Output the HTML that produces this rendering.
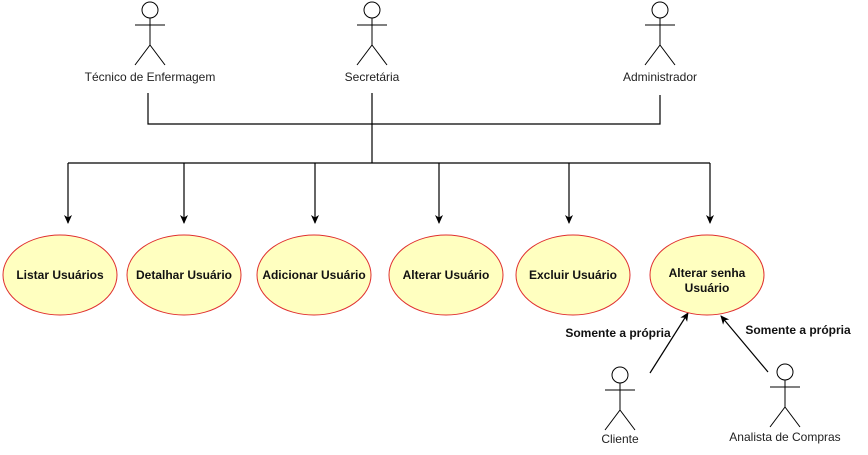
<!DOCTYPE html>
<html><head><meta charset="utf-8"><style>
body{margin:0;background:#fff}
svg{display:block}
text{font-family:"Liberation Sans",Arial,sans-serif;font-size:12px;fill:#222}
.b{font-weight:bold;fill:#111}
</style></head><body>
<svg width="868" height="455" viewBox="0 0 868 455" xmlns="http://www.w3.org/2000/svg">
<defs>
<g id="actor" fill="#fff" stroke="#000" stroke-width="1">
<circle cx="0" cy="8" r="8"/>
<line x1="0" y1="16" x2="0" y2="43"/>
<line x1="-15" y1="23" x2="15" y2="23"/>
<line x1="0" y1="43" x2="-15" y2="63"/>
<line x1="0" y1="43" x2="15" y2="63"/>
</g>
<marker id="ar" markerWidth="10" markerHeight="10" refX="8" refY="5" orient="auto" markerUnits="userSpaceOnUse">
<path d="M0,1 L9,5 L0,9 L2.5,5 Z" fill="#000"/>
</marker>
</defs>
<use href="#actor" x="150" y="2"/>
<use href="#actor" x="372" y="2"/>
<use href="#actor" x="660" y="2"/>
<text x="150" y="81" text-anchor="middle">Técnico de Enfermagem</text>
<text x="372" y="81" text-anchor="middle">Secretária</text>
<text x="660" y="81" text-anchor="middle">Administrador</text>
<g stroke="#000" fill="none" stroke-width="1.2">
<polyline points="148,93 148,124 660,124 660,95"/>
<line x1="372" y1="93" x2="372" y2="163"/>
<line x1="68" y1="163" x2="710" y2="163"/>
<line x1="68" y1="163" x2="68" y2="223" marker-end="url(#ar)"/>
<line x1="184" y1="163" x2="184" y2="223" marker-end="url(#ar)"/>
<line x1="315" y1="163" x2="315" y2="223" marker-end="url(#ar)"/>
<line x1="439" y1="163" x2="439" y2="223" marker-end="url(#ar)"/>
<line x1="569" y1="163" x2="569" y2="223" marker-end="url(#ar)"/>
<line x1="710" y1="163" x2="710" y2="223" marker-end="url(#ar)"/>
<line x1="650" y1="373" x2="688" y2="313" marker-end="url(#ar)"/>
<line x1="768" y1="372" x2="721" y2="316" marker-end="url(#ar)"/>
</g>
<g fill="#ffffc0" stroke="#e03030" stroke-width="1">
<ellipse cx="60" cy="275" rx="57" ry="40"/>
<ellipse cx="184" cy="275" rx="57" ry="40"/>
<ellipse cx="314" cy="275" rx="57" ry="40"/>
<ellipse cx="446" cy="275" rx="57" ry="40"/>
<ellipse cx="573" cy="275" rx="57" ry="40"/>
<ellipse cx="707" cy="275" rx="57" ry="40"/>
</g>
<text class="b" x="60" y="279" text-anchor="middle">Listar Usuários</text>
<text class="b" x="184" y="279" text-anchor="middle">Detalhar Usuário</text>
<text class="b" x="314" y="279" text-anchor="middle">Adicionar Usuário</text>
<text class="b" x="446" y="279" text-anchor="middle">Alterar Usuário</text>
<text class="b" x="573" y="279" text-anchor="middle">Excluir Usuário</text>
<text class="b" x="707" y="277" text-anchor="middle">Alterar senha</text>
<text class="b" x="707" y="292" text-anchor="middle">Usuário</text>
<text class="b" x="618" y="337" text-anchor="middle">Somente a própria</text>
<text class="b" x="798" y="334" text-anchor="middle">Somente a própria</text>
<use href="#actor" x="620" y="367"/>
<use href="#actor" x="785" y="364"/>
<text x="620" y="443" text-anchor="middle">Cliente</text>
<text x="785" y="441" text-anchor="middle">Analista de Compras</text>
</svg>
</body></html>
